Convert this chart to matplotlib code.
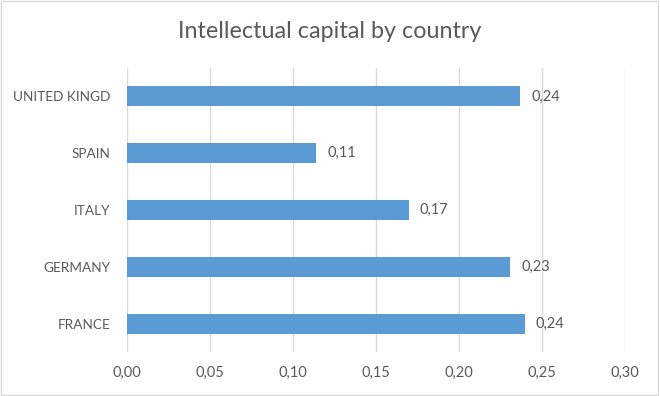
import matplotlib.pyplot as plt
from matplotlib.patches import Rectangle

# Данные
countries = ['FRANCE', 'GERMANY', 'ITALY', 'SPAIN', 'UNITED KINGD']
values = [0.2395, 0.231, 0.1697, 0.114, 0.2366]
xticks = [0.00, 0.05, 0.10, 0.15, 0.20, 0.25, 0.30]

plt.rcParams['font.family'] = ['Lato', 'DejaVu Sans']
text_color = '#595959'
grid_color = '#D9D9D9'

fig = plt.figure(figsize=(6.6, 3.96), dpi=100)
ax = fig.add_axes([127 / 660, 1 - 352 / 396, 498 / 660, 284 / 396])

pos = range(len(countries))
ax.barh(pos, values, height=0.35, color='#5B9BD5', zorder=3)

for y, v in zip(pos, values):
    ax.text(v + 0.0068, y, f'{v:.2f}'.replace('.', ','), va='center', ha='left',
            fontsize=10.5, color=text_color)

ax.set_xlim(0, 0.30)
ax.set_ylim(-0.5, len(countries) - 0.5)
ax.set_xticks(xticks)
ax.set_xticklabels([f'{t:.2f}'.replace('.', ',') for t in xticks])
ax.set_yticks(list(pos))
ax.set_yticklabels(countries)
ax.tick_params(axis='both', length=0, labelcolor=text_color)
ax.tick_params(axis='y', pad=12, labelsize=9.8)
ax.tick_params(axis='x', pad=10, labelsize=10.5)
ax.grid(axis='x', color=grid_color, linewidth=1, zorder=0)
for s in ax.spines.values():
    s.set_visible(False)

fig.text(0.5, 1 - 32 / 396, 'Intellectual capital by country', ha='center', va='center',
         fontsize=16.8, color=text_color)

# Рамка вокруг диаграммы
fig.patches.append(Rectangle((0.002, 0.003), 0.995, 0.994, transform=fig.transFigure,
                             fill=False, edgecolor=grid_color, linewidth=1))

fig.savefig('out.png', dpi=100)
